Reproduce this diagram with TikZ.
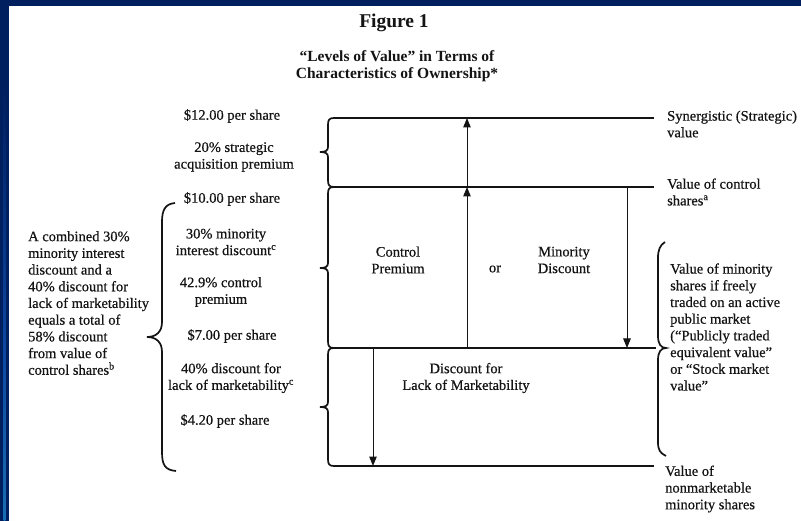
\documentclass[tikz,border=0pt]{standalone}
\usepackage{fontspec}
\setmainfont{Liberation Serif}
\newfontfamily\heavyserif{Liberation Serif}[FakeBold=0.5]
\usetikzlibrary{arrows.meta}
\definecolor{navy}{RGB}{0,31,95}
\definecolor{midblue}{RGB}{12,70,160}
\definecolor{skyblue}{RGB}{30,125,185}
\definecolor{tealc}{RGB}{42,172,196}
\definecolor{brownc}{RGB}{74,56,26}
\definecolor{tanc}{RGB}{110,92,68}
\definecolor{ink}{RGB}{20,20,20}
\pgfdeclareverticalshading{leftstrip}{10bp}{color(0bp)=(tanc); color(4.8bp)=(brownc); color(7.3bp)=(brownc); color(7.7bp)=(tealc); color(19bp)=(skyblue); color(42bp)=(midblue); color(67bp)=(navy); color(100bp)=(navy)}
\newcommand{\boxbrace}[4]{%
  \draw[brc] ({#1+6},#2) .. controls ({#1+1},#2) and (#1,{#2+2}) .. (#1,{#2+7})
    -- (#1,{#3-5}) .. controls (#1,{#3-1}) and ({#1-3},#3) .. ({#1-8},#3)
    .. controls ({#1-3},#3) and (#1,{#3+1}) .. (#1,{#3+5})
    -- (#1,{#4-7}) .. controls (#1,{#4-2}) and ({#1+1},#4) .. ({#1+6},#4);}
\begin{document}
\begin{tikzpicture}[x=1pt,y=-1pt,
  lbl/.style={font=\heavyserif\fontsize{14.5}{16.7}\selectfont, text=ink, inner sep=0pt},
  ttl/.style={font=\bfseries\fontsize{15.5}{17}\selectfont, text=ink, inner sep=0pt, align=center},
  hline/.style={line width=1.5pt, draw=ink},
  brc/.style={line width=1.7pt, draw=ink},
  arr/.style={line width=1pt, draw=ink, fill=ink, -{Triangle[length=9.5pt,width=7.5pt]}}]
% background
\useasboundingbox (0,0) rectangle (801,521);
\fill[navy] (0,0) rectangle (801,521);
\shade[shading=leftstrip] (0,0) rectangle (9,521);
\fill[navy] (0,0) rectangle (801,6);
\fill[white] (9,6) rectangle (801,521);
% titles
\node[ttl, font=\bfseries\fontsize{19.5}{21}\selectfont] (fig) at (394,23) {Figure 1};
\node[ttl] (title) at (397,66) {“Levels of Value” in Terms of\\Characteristics of Ownership*};
% level lines
\coordinate (l1a) at (333,118); \coordinate (l1b) at (654,118);
\coordinate (l2a) at (333,187); \coordinate (l2b) at (654,187);
\coordinate (l3a) at (333,348); \coordinate (l3b) at (656,348);
\coordinate (l4a) at (333,466); \coordinate (l4b) at (654,466);
\draw[hline] (l1a) -- (l1b);
\draw[hline] (l2a) -- (l2b);
\draw[hline] (l3a) -- (l3b);
\draw[hline] (l4a) -- (l4b);
% arrows
\coordinate (a1s) at (467,187); \coordinate (a1e) at (467,118);
\coordinate (a2s) at (467,348); \coordinate (a2e) at (467,187);
\coordinate (a3s) at (627,187); \coordinate (a3e) at (627,348);
\coordinate (a4s) at (373,348); \coordinate (a4e) at (373,466);
\draw[arr] (a1s) -- (a1e);
\draw[arr] (a2s) -- (a2e);
\draw[arr] (a3s) -- (a3e);
\draw[arr] (a4s) -- (a4e);
% braces at left of the levels
\boxbrace{328}{118}{152}{187}
\boxbrace{328}{187}{268}{348}
\boxbrace{328}{348}{407}{466}
% big left brace
\draw[brc] (175,203) .. controls (165,204) and (162,210) .. (162,222) -- (162,322)
  .. controls (162,332) and (156,337) .. (147,337)
  .. controls (156,337) and (162,342) .. (162,352) -- (162,452)
  .. controls (162,465) and (165,470) .. (176,471);
% right brace
\draw[brc] (665,242) .. controls (660,245) and (658,250) .. (658,258) -- (658,336)
  .. controls (658,344) and (661,348) .. (666,348)
  .. controls (661,348) and (658,352) .. (658,360) -- (658,442)
  .. controls (658,450) and (660,453) .. (666,456);
% left column labels
\node[lbl] (p12) at (232,116) {\$12.00 per share};
\node[lbl, align=center] (strat) at (234,157) {20\% strategic\\acquisition premium};
\node[lbl] (p10) at (232,199) {\$10.00 per share};
\node[lbl, align=center] (mind) at (226,242) {30\% minority\\interest discount\textsuperscript{c}};
\node[lbl, align=center] (ctrlp) at (221,292) {42.9\% control\\premium};
\node[lbl] (p7) at (232,336) {\$7.00 per share};
\node[lbl, align=center] (dlom) at (231,378) {40\% discount for\\lack of marketability\textsuperscript{c}};
\node[lbl] (p42) at (225,421) {\$4.20 per share};
% far left note
\node[lbl, align=left, anchor=west] (combined) at (28,303) {A combined 30\%\\minority interest\\discount and a\\40\% discount for\\lack of marketability\\equals a total of\\58\% discount\\from value of\\control shares\textsuperscript{b}};
% box texts
\node[lbl, align=center] (cp) at (398,260) {Control\\Premium};
\node[lbl] (or) at (495,269) {or};
\node[lbl, align=center] (md) at (564,260) {Minority\\Discount};
\node[lbl, align=center] (dl) at (466,378) {Discount for\\Lack of Marketability};
% right labels
\node[lbl, align=left, anchor=west] (syn) at (667,124) {Synergistic (Strategic)\\value};
\node[lbl, align=left, anchor=west] (vcs) at (667,192) {Value of control\\shares\textsuperscript{a}};
\node[lbl, align=left, anchor=west] (vms) at (670,327) {Value of minority\\shares if freely\\traded on an active\\public market\\(“Publicly traded\\equivalent value”\\or “Stock market\\value”};
\node[lbl, align=left, anchor=west] (vnm) at (665,489) {Value of\\nonmarketable\\minority shares};
\end{tikzpicture}
\end{document}
